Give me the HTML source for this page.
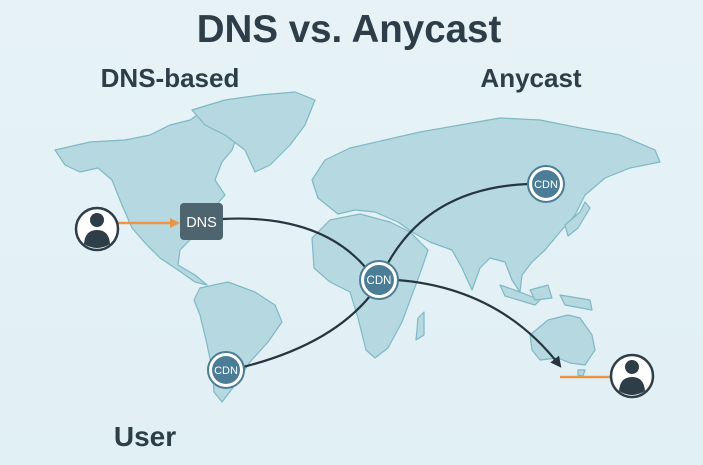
<!DOCTYPE html>
<html><head><meta charset="utf-8"><style>
html,body{margin:0;padding:0;width:703px;height:465px;overflow:hidden;background:#e3f1f6;}
svg{display:block}
text{font-family:"Liberation Sans",sans-serif;}
</style></head><body>
<svg width="703" height="465" viewBox="0 0 703 465" xmlns="http://www.w3.org/2000/svg">
<defs><linearGradient id="bg" x1="0" y1="0" x2="0" y2="1"><stop offset="0" stop-color="#e6f2f6"/><stop offset="1" stop-color="#e1f0f5"/></linearGradient>
<marker id="ah" viewBox="0 0 10 10" refX="8" refY="5" markerWidth="5" markerHeight="5" orient="auto"><path d="M0,0L10,5L0,10z" fill="#26353f"/></marker>
<marker id="oh" viewBox="0 0 10 10" refX="8" refY="5" markerWidth="4" markerHeight="4" orient="auto"><path d="M0,0L10,5L0,10z" fill="#e8954a"/></marker></defs>
<rect width="703" height="465" fill="url(#bg)"/>
<g fill="#b6d9e1" stroke="#7fb8c4" stroke-width="1.2" stroke-linejoin="round">
<path d="M55,150 L90,142 L125,140 L150,135 L170,125 L190,120 L205,110 L225,112 L240,128 L232,150 L222,162 L215,180 L225,195 L212,210 L200,222 L192,238 L180,250 L178,265 L195,275 L207,285 L195,282 L178,270 L160,258 L146,244 L132,228 L122,205 L112,180 L98,168 L80,172 L65,165 Z"/>
<path d="M192,110 L225,100 L260,95 L295,92 L315,100 L305,125 L290,145 L270,165 L255,172 L245,150 L225,135 L205,125 Z"/>
<path d="M200,288 L228,282 L255,292 L275,305 L282,322 L268,342 L250,362 L235,385 L222,402 L214,392 L212,368 L206,340 L200,315 L194,300 Z"/>
<path d="M318,198 L312,180 L325,160 L350,148 L385,140 L420,132 L460,125 L500,118 L540,120 L580,128 L620,135 L655,150 L660,162 L630,168 L605,178 L585,195 L575,215 L560,232 L545,250 L532,262 L522,275 L520,292 L512,280 L505,262 L490,258 L480,268 L472,290 L462,268 L452,250 L430,242 L412,232 L398,222 L375,212 L355,210 L338,214 Z"/>
<path d="M312,238 L330,220 L360,214 L390,222 L410,232 L428,250 L422,268 L412,295 L402,322 L388,348 L375,358 L366,350 L358,318 L350,292 L330,282 L314,268 Z"/>
<path d="M418,318 L424,312 L424,335 L416,340 Z"/>
<path d="M565,225 L580,212 L585,202 L590,208 L578,228 L568,236 Z"/>
<path d="M500,285 L520,292 L540,300 L535,305 L505,296 Z"/>
<path d="M530,290 L548,285 L552,298 L535,300 Z"/>
<path d="M560,295 L590,300 L592,310 L565,305 Z"/>
<path d="M530,335 L548,320 L568,315 L580,318 L592,335 L595,350 L585,365 L570,363 L558,358 L540,360 L532,350 Z"/>
<path d="M578,370 L585,370 L583,376 L578,375 Z"/>
</g>
<g fill="none" stroke="#26353f" stroke-width="2.2">
<path d="M222,219 Q320,214 366,268"/>
<path d="M243,367 Q330,345 370,296"/>
<path d="M388,263 Q430,188 528,184"/>
<path d="M397,280 Q500,288 560,366" marker-end="url(#ah)"/>
</g>
<line x1="118" y1="223" x2="178" y2="223" stroke="#e8954a" stroke-width="2.5" marker-end="url(#oh)"/>
<line x1="560" y1="377" x2="612" y2="377" stroke="#e8954a" stroke-width="2.5"/>
<rect x="180" y="203" width="43" height="37" rx="4" fill="#4e646f"/>
<text x="201.5" y="227" font-size="14.5" fill="#fff" text-anchor="middle">DNS</text>
<g>
<circle cx="379" cy="280" r="19" fill="#fff" stroke="#4b7d96" stroke-width="2"/><circle cx="379" cy="280" r="15" fill="#4b7d96"/>
<text x="379" y="284" font-size="11.5" fill="#fff" text-anchor="middle">CDN</text>
<circle cx="546" cy="184" r="18" fill="#fff" stroke="#4b7d96" stroke-width="2"/><circle cx="546" cy="184" r="14" fill="#4b7d96"/>
<text x="546" y="188" font-size="11" fill="#fff" text-anchor="middle">CDN</text>
<circle cx="226" cy="370" r="18" fill="#fff" stroke="#4b7d96" stroke-width="2"/><circle cx="226" cy="370" r="14" fill="#4b7d96"/>
<text x="226" y="374" font-size="11" fill="#fff" text-anchor="middle">CDN</text>
</g>
<g>
<circle cx="97" cy="229" r="21" fill="#fff" stroke="#2d3e48" stroke-width="2.5"/>
<circle cx="97" cy="220" r="7" fill="#2d3e48"/>
<path d="M84,244 Q85,230 97,230 Q109,230 110,244 Q97,252 84,244Z" fill="#2d3e48"/>
<circle cx="632" cy="376" r="21" fill="#fff" stroke="#2d3e48" stroke-width="2.5"/>
<circle cx="632" cy="367" r="7" fill="#2d3e48"/>
<path d="M619,391 Q620,377 632,377 Q644,377 645,391 Q632,399 619,391Z" fill="#2d3e48"/>
</g>
<text x="349" y="42" font-size="38.5" font-weight="bold" fill="#2d3e48" text-anchor="middle">DNS vs. Anycast</text>
<text x="170" y="87" font-size="26" font-weight="bold" fill="#2d3e48" text-anchor="middle">DNS-based</text>
<text x="531" y="87" font-size="26" font-weight="bold" fill="#2d3e48" text-anchor="middle">Anycast</text>
<text x="145" y="446" font-size="28" font-weight="bold" fill="#2d3e48" text-anchor="middle">User</text>
</svg>
</body></html>
